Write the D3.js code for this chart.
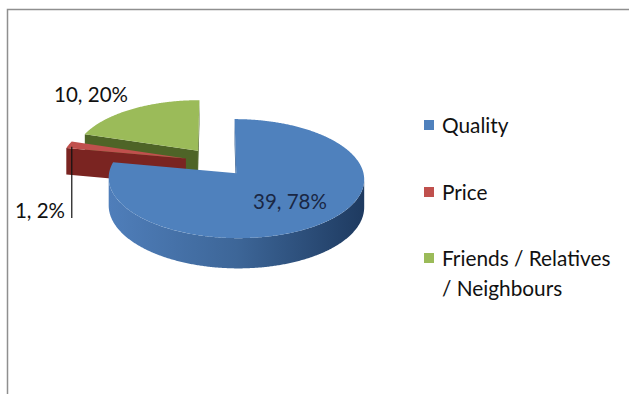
<!DOCTYPE html>
<html>
<head>
<meta charset="utf-8">
<script src="https://cdn.jsdelivr.net/npm/d3@7"></script>
<style>
  html, body { margin: 0; padding: 0; background: #ffffff; }
  svg { display: block; }
  text { font-family: Lato, "Open Sans", "Noto Sans", sans-serif; }
</style>
</head>
<body>
<svg id="chart" width="629" height="394"></svg>
<script>
// ---- data ----
const categories = ["Quality", "Price", "Friends / Relatives / Neighbours"];
const legendLines = [["Quality"], ["Price"], ["Friends / Relatives", "/ Neighbours"]];
const counts = [39, 1, 10];
const percents = [78, 2, 20];

// ---- palette (top face, radial wall, curved wall gradient stops) ----
const topColor  = ["#4f81bd", "#c0504d", "#9bbb59"];
const wallColor = ["#3b6394", "#7a2421", "#4e6427"];
const rimStops  = [["#4f7eba", "#3d6698", "#1e3a60"], ["#8c2b28", "#7a2421", "#5e1a18"], ["#5b7530", "#4e6427", "#3b4c1d"]];

const svg = d3.select("#chart");
const W = 629, H = 394;

// chart frame
svg.append("path")
  .attr("d", `M${W},9.5 L7.5,9.5 L7.5,${H}`)
  .attr("fill", "none").attr("stroke", "#8f8f8f").attr("stroke-width", 1.5);

// ---- 3D pie projection ----
const cx = 216, cy = 162;       // screen position of the pie's centre
const Sx = 125, Sy = 57;        // horizontal radius, foreshortened vertical radius
const depth = 27;               // wall height
const persp = 0.09;             // mild perspective: far side shrinks
const explode = 0.25;           // slice offset as a fraction of the radius
const camZ = -1 / persp;

function project(X, Z, down) {
  const w = 1 + persp * Z;
  return [cx + Sx * X / w, cy + (-Sy * Z + depth * down) / w];
}

const pie = d3.pie().sort(null).value(d => d);
const arcs = pie(counts);

const step = Math.PI / 360;
function angles(a0, a1) {
  const n = Math.max(2, Math.ceil((a1 - a0) / step));
  return d3.range(n + 1).map(i => a0 + (a1 - a0) * i / n);
}

const defs = svg.append("defs");
const line = d3.line();

// geometry for each slice
const slices = arcs.map((a, i) => {
  const mid = (a.startAngle + a.endAngle) / 2;
  const ox = explode * Math.sin(mid), oz = explode * Math.cos(mid);
  const pt = (t, r, down) => project(ox + r * Math.sin(t), oz + r * Math.cos(t), down);
  return { a, i, mid, ox, oz, pt };
});

// draw back-to-front: slices further back (larger offset z) first
const order = slices.slice().sort((p, q) => q.oz - p.oz);
const g = svg.append("g");

order.forEach(s => {
  const { a, i, ox, oz, pt } = s;
  const sg = g.append("g");

  // radial walls, shown only when facing the viewer
  [[a.startAngle, -1], [a.endAngle, 1]].forEach(([t, sgn]) => {
    const nt = t + sgn * Math.PI / 2;
    const nx = Math.sin(nt), nz = Math.cos(nt);
    const px = ox + 0.5 * Math.sin(t), pz = oz + 0.5 * Math.cos(t);
    const dot = nx * (0 - px) + nz * (camZ - pz);
    if (dot <= 0) return;
    const quad = [pt(t, 0, 0), pt(t, 1, 0), pt(t, 1, 1), pt(t, 0, 1)];
    sg.append("path").attr("d", line(quad) + "Z").attr("fill", wallColor[i]);
  });

  // curved outer wall: the part between the silhouette extremes on the near side
  const ring = d3.range(0, 720).map(k => k * step);
  let tR = 0, tL = 0, maxX = -Infinity, minX = Infinity;
  ring.forEach(t => {
    const x = pt(t, 1, 0)[0];
    if (x > maxX) { maxX = x; tR = t; }
    if (x < minX) { minX = x; tL = t; }
  });
  const v0 = Math.max(a.startAngle, tR), v1 = Math.min(a.endAngle, tL);
  if (v1 > v0) {
    const ts = angles(v0, v1);
    const poly = ts.map(t => pt(t, 1, 0)).concat(ts.slice().reverse().map(t => pt(t, 1, 1)));
    const gid = "rim" + i;
    const grad = defs.append("linearGradient").attr("id", gid)
      .attr("gradientUnits", "userSpaceOnUse")
      .attr("x1", minX).attr("x2", maxX).attr("y1", 0).attr("y2", 0);
    rimStops[i].forEach((c, j) => grad.append("stop").attr("offset", j / (rimStops[i].length - 1)).attr("stop-color", c));
    sg.append("path").attr("d", line(poly) + "Z").attr("fill", `url(#${gid})`);
  }

  // top face
  const topPts = [pt(0, 0, 0)].concat(angles(a.startAngle, a.endAngle).map(t => pt(t, 1, 0)));
  sg.append("path").attr("d", line(topPts) + "Z").attr("fill", topColor[i]);
});

// ---- data labels ----
const labelText = i => `${counts[i]}, ${percents[i]}%`;

// Quality: inside its slice
{
  const s = slices[0];
  const [lx, ly] = s.pt(s.mid, 0.6, 0);
  svg.append("text").attr("x", lx + 2).attr("y", ly).attr("dy", "0.35em")
    .attr("text-anchor", "middle").attr("font-size", 20.5).attr("fill", "#1a2744")
    .text(labelText(0));
}
// Friends: above its slice
svg.append("text").attr("x", 128).attr("y", 102).attr("text-anchor", "end")
  .attr("font-size", 20.5).attr("fill", "#111").text(labelText(2));
// Price: below, with a leader line to the slice
{
  const s = slices[1];
  const [px, py] = s.pt(s.mid, 1, 0);
  svg.append("path").attr("d", `M${px + 3},${py + 2} L${px + 3},218`)
    .attr("stroke", "#111").attr("stroke-width", 1.2).attr("fill", "none");
  svg.append("text").attr("x", 65).attr("y", 218).attr("text-anchor", "end")
    .attr("font-size", 20.5).attr("fill", "#111").text(labelText(1));
}

// ---- legend ----
const legendY = [125, 192, 258];
const leg = svg.append("g");
categories.forEach((c, i) => {
  leg.append("rect").attr("x", 424).attr("y", legendY[i] - 5).attr("width", 10).attr("height", 10)
    .attr("fill", topColor[i]);
  legendLines[i].forEach((ln, j) => {
    leg.append("text").attr("x", 442).attr("y", legendY[i] + 8 + j * 30)
      .attr("font-size", 20.8).attr("fill", "#111").text(ln);
  });
});
</script>
</body>
</html>
